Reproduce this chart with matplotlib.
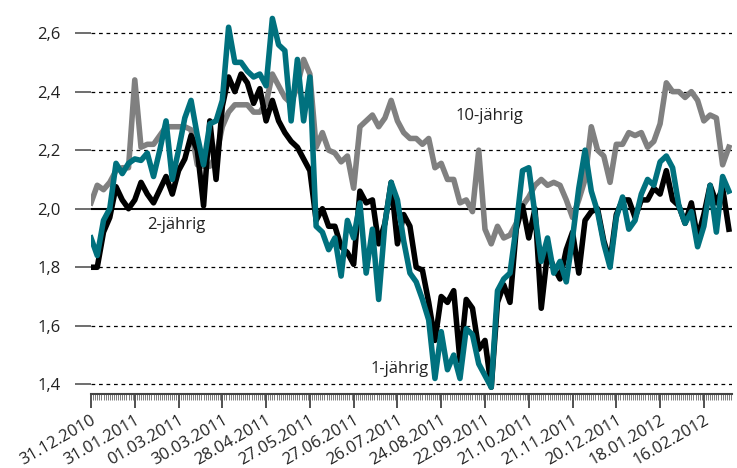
import numpy as np
import pandas as pd
import matplotlib
matplotlib.use('Agg')
import matplotlib.pyplot as plt

# business days since 31.12.2010, one sample every 3rd trading day
start_day = '2010-12-31'
n_days = 309
step = 3

# 10-jaehrig (grey)
yield_10y = [2.02, 2.08, 2.065, 2.09, 2.13, 2.14, 2.14, 2.44, 2.21, 2.22,
             2.22, 2.25, 2.28, 2.28, 2.28, 2.28, 2.27, 2.15, 2.145, 2.145,
             2.18, 2.28, 2.33, 2.355, 2.355, 2.355, 2.33, 2.33, 2.36, 2.46,
             2.42, 2.38, 2.36, 2.42, 2.51, 2.46, 2.21, 2.26, 2.20, 2.19,
             2.16, 2.18, 2.07, 2.28, 2.30, 2.32, 2.28, 2.31, 2.37, 2.30,
             2.26, 2.24, 2.24, 2.22, 2.24, 2.14, 2.155, 2.10, 2.10, 2.02,
             2.03, 1.99, 2.20, 1.93, 1.88, 1.94, 1.90, 1.91, 1.95, 2.01,
             2.04, 2.08, 2.10, 2.08, 2.09, 2.08, 2.03, 1.97, 2.03, 2.10,
             2.28, 2.20, 2.18, 2.09, 2.22, 2.22, 2.26, 2.25, 2.26, 2.21,
             2.23, 2.29, 2.43, 2.40, 2.40, 2.38, 2.40, 2.37, 2.30, 2.32,
             2.31, 2.15, 2.21]
# 2-jaehrig (black)
yield_2y = [1.80, 1.80, 1.92, 1.97, 2.075, 2.03, 2.00, 2.03, 2.09, 2.05,
            2.02, 2.065, 2.11, 2.05, 2.13, 2.17, 2.25, 2.20, 2.01, 2.30,
            2.10, 2.35, 2.45, 2.40, 2.46, 2.43, 2.36, 2.41, 2.30, 2.37,
            2.30, 2.26, 2.23, 2.21, 2.17, 2.13, 1.96, 2.00, 1.94, 1.94,
            1.87, 1.85, 1.81, 2.06, 2.02, 2.03, 1.88, 1.95, 2.09, 1.88,
            1.98, 1.94, 1.80, 1.79, 1.68, 1.55, 1.70, 1.68, 1.72, 1.48,
            1.69, 1.66, 1.52, 1.55, 1.39, 1.68, 1.74, 1.68, 1.93, 2.01,
            1.90, 2.00, 1.66, 1.85, 1.80, 1.76, 1.86, 1.92, 1.78, 1.96,
            1.99, 2.00, 1.89, 1.82, 1.98, 2.03, 2.03, 1.97, 2.03, 2.03,
            2.07, 2.05, 2.13, 2.03, 2.01, 1.95, 2.02, 1.90, 1.98, 2.08,
            2.02, 2.07, 1.93]
# 1-jaehrig (teal)
yield_1y = [1.90, 1.84, 1.96, 2.00, 2.155, 2.12, 2.155, 2.17, 2.165, 2.19,
            2.11, 2.20, 2.30, 2.10, 2.20, 2.31, 2.37, 2.25, 2.15, 2.29,
            2.30, 2.37, 2.62, 2.50, 2.50, 2.47, 2.45, 2.46, 2.42, 2.65,
            2.56, 2.54, 2.30, 2.51, 2.30, 2.45, 1.94, 1.92, 1.86, 1.90,
            1.77, 1.96, 1.90, 2.02, 1.78, 1.93, 1.69, 1.95, 2.09, 2.03,
            1.89, 1.78, 1.75, 1.69, 1.62, 1.42, 1.58, 1.45, 1.50, 1.42,
            1.59, 1.57, 1.47, 1.43, 1.39, 1.72, 1.76, 1.78, 1.94, 2.13,
            2.14, 1.98, 1.82, 1.90, 1.78, 1.82, 1.75, 1.90, 2.07, 2.20,
            2.06, 1.99, 1.88, 1.80, 1.97, 2.04, 1.93, 1.96, 2.05, 2.10,
            2.08, 2.16, 2.18, 2.14, 2.01, 1.95, 1.99, 1.87, 1.94, 2.08,
            1.92, 2.11, 2.06]

y_ticks = [1.4, 1.6, 1.8, 2.0, 2.2, 2.4, 2.6]

days = pd.bdate_range(start_day, periods=n_days)
pos = np.arange(0, len(yield_1y) * step, step)

plt.rcParams['font.family'] = ['Open Sans', 'DejaVu Sans']
fig = plt.figure(figsize=(7.37, 4.68), dpi=100)
ax = fig.add_axes([91 / 737, 1 - 394 / 468, 641 / 737, 394 / 468])

grey = '#808080'
teal = '#00717E'
lw = 4.0
ax.plot(pos, yield_10y, color=grey, lw=lw, zorder=3, solid_joinstyle='round')
ax.plot(pos, yield_2y, color='black', lw=lw, zorder=4, solid_joinstyle='round')
ax.plot(pos, yield_1y, color=teal, lw=lw, zorder=5, solid_joinstyle='round')

for v in y_ticks:
    if v == 2.0:
        ax.axhline(v, color='black', lw=1.5, zorder=2)
    else:
        ax.axhline(v, color='black', lw=0.9, ls=(0, (3, 3)), zorder=2)

ax.set_ylim(1.367, 2.713)
ax.set_xlim(0, n_days - 1.5)
ax.set_yticks(y_ticks)
ax.set_yticklabels([f'{v:.1f}'.replace('.', ',') for v in y_ticks],
                   fontsize=12, color='#222222')
ax.tick_params(axis='y', length=11.5, width=1.2, color='#555555', pad=10.5)

major = np.arange(0, n_days, 21)
ax.set_xticks(major)
ax.set_xticklabels([days[i].strftime('%d.%m.%Y') for i in major],
                   rotation=30, ha='right', rotation_mode='anchor',
                   fontsize=12, color='#222222')
ax.set_xticks(np.arange(0, n_days - 1), minor=True)
ax.tick_params(axis='x', which='major', length=10, width=1.2,
               color='#333333', pad=3)
ax.tick_params(axis='x', which='minor', length=4.5, width=0.6,
               color='#666666')

for s in ['top', 'right', 'left']:
    ax.spines[s].set_visible(False)
ax.spines['bottom'].set_color('#444444')
ax.spines['bottom'].set_linewidth(1.5)

ax.text(191.3, 2.318, '10-jährig', ha='center', va='center', fontsize=12,
        color='#222222', zorder=6)
ax.text(41, 1.945, '2-jährig', ha='center', va='center', fontsize=12,
        color='#222222', zorder=6)
ax.text(148, 1.453, '1-jährig', ha='center', va='center', fontsize=12,
        color='#222222', zorder=6)

fig.savefig('out.png', dpi=100)
